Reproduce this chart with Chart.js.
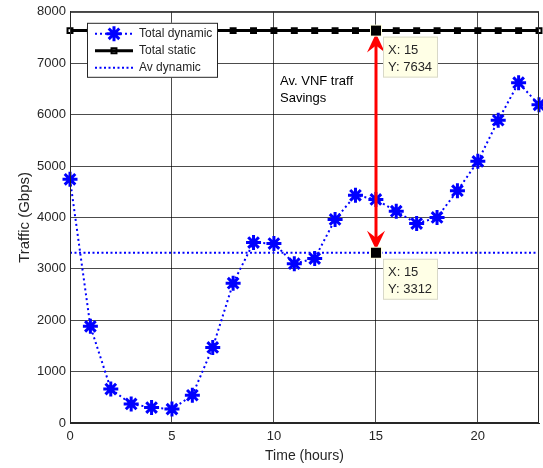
<!DOCTYPE html>
<html>
<head>
<meta charset="utf-8">
<script src="https://cdn.jsdelivr.net/npm/chart.js@4.4.1/dist/chart.umd.min.js"></script>
<style>
  html, body { margin: 0; padding: 0; background: #fff; }
  #wrap { width: 543px; height: 468px; }
</style>
</head>
<body>
<div id="wrap"><canvas id="myChart" width="543" height="468"></canvas></div>
<script>
// values
const hours = [0, 1, 2, 3, 4, 5, 6, 7, 8, 9, 10, 11, 12, 13, 14, 15, 16, 17, 18, 19, 20, 21, 22, 23];
const totalDynamic = [4740, 1880, 660, 370, 300, 270, 540, 1470, 2720, 3510, 3490, 3100,
                      3200, 3960, 4430, 4350, 4120, 3880, 4000, 4520, 5090, 5890, 6620, 6190];
const totalStatic = [7634, 7634, 7634, 7634, 7634, 7634, 7634, 7634, 7634, 7634, 7634, 7634,
                     7634, 7634, 7634, 7634, 7634, 7634, 7634, 7634, 7634, 7634, 7634, 7634];
const avHours = [0, 23];
const avDynamic = [3312, 3312];
const seriesNames = ['Total dynamic', 'Total static', 'Av dynamic'];
const xTicks = [0, 5, 10, 15, 20];
const yTicks = [0, 1000, 2000, 3000, 4000, 5000, 6000, 7000, 8000];
const tipX = 15;
const tipTop = 7634;
const tipBottom = 3312;
const noteLines = ['Av. VNF traff', 'Savings'];
const noteAt = { x: 10.3, y: 6640 };

const FONT = 'Liberation Sans, Arial, Helvetica, sans-serif';
const TXT = '#262626';
const BLUE = '#0000ff';

const toXY = (xs, ys) => xs.map((x, i) => ({ x: x, y: ys[i] }));

// stretch the plot to the right edge like the original axes
const rightEdge = {
    id: 'rightEdge',
    afterLayout(chart) {
        const a = chart.chartArea;
        const x = chart.scales.x;
        const r = chart.width - 4;
        a.right = r;
        a.width = r - a.left;
        x.right = r;
        x.width = r - x.left;
        x.configure();
    }
};

// frame, legend, arrow, data tips
const overlay = {
    id: 'overlay',
    afterDatasetsDraw(chart) {
        const c = chart.ctx;
        const a = chart.chartArea;
        const xs = chart.scales.x, ys = chart.scales.y;
        c.save();

        // box around the axes
        c.strokeStyle = TXT;
        c.lineWidth = 1;
        c.strokeRect(a.left + 0.5, a.top + 0.5, a.right - a.left - 1, a.bottom - a.top - 1);

        // double arrow
        const px = Math.round(xs.getPixelForValue(tipX));
        const yT = ys.getPixelForValue(tipTop);
        const yB = ys.getPixelForValue(tipBottom);
        c.strokeStyle = '#ff0000';
        c.fillStyle = '#ff0000';
        c.lineWidth = 3;
        c.beginPath();
        c.moveTo(px, yT + 12);
        c.lineTo(px, yB - 12);
        c.stroke();
        const head = (tip, dir) => {
            c.beginPath();
            c.moveTo(px, tip);
            c.lineTo(px - 9, tip + dir * 19);
            c.lineTo(px, tip + dir * 12);
            c.lineTo(px + 9, tip + dir * 19);
            c.closePath();
            c.fill();
        };
        head(yT + 3, 1);
        head(yB - 3, -1);

        // data tips
        c.font = '13px ' + FONT;
        c.textBaseline = 'middle';
        c.textAlign = 'left';
        [tipTop, tipBottom].forEach(v => {
            const py = ys.getPixelForValue(v);
            c.fillStyle = '#ffffe0';
            c.fillRect(px - 6, py - 6, 12, 12);
            c.fillStyle = '#000';
            c.fillRect(px - 5, py - 5, 10, 10);
            const bx = px + 7, by = py + 6;
            c.fillStyle = '#ffffe6';
            c.fillRect(bx, by, 55, 41);
            c.strokeStyle = '#d8d8c8';
            c.lineWidth = 1;
            c.strokeRect(bx + 0.5, by + 0.5, 54, 40);
            c.fillStyle = TXT;
            c.fillText('X: ' + tipX, bx + 5, by + 14);
            c.fillText('Y: ' + v, bx + 5, by + 31);
        });

        // note text
        c.fillStyle = '#000';
        c.font = '13px ' + FONT;
        const nx = xs.getPixelForValue(noteAt.x);
        const ny = ys.getPixelForValue(noteAt.y);
        noteLines.forEach((t, i) => c.fillText(t, nx, ny + i * 17));

        // legend box
        const lx = a.left + 17, ly = a.top + 11, lw = 131, lh = 55;
        c.fillStyle = '#fff';
        c.fillRect(lx, ly, lw, lh);
        c.strokeStyle = '#262626';
        c.lineWidth = 1;
        c.strokeRect(lx + 0.5, ly + 0.5, lw - 1, lh - 1);
        chart.data.datasets.forEach((ds, i) => {
            const ry = ly + 11 + i * 17;
            c.strokeStyle = ds.borderColor;
            c.lineWidth = ds.borderWidth;
            c.setLineDash(ds.borderDash || []);
            c.beginPath();
            c.moveTo(lx + 8, ry);
            c.lineTo(lx + 46, ry);
            c.stroke();
            c.setLineDash([]);
            if (ds.pointRadius > 0) {
                c.fillStyle = ds.pointBackgroundColor;
                c.strokeStyle = ds.pointBorderColor;
                c.lineWidth = ds.pointBorderWidth;
                Chart.helpers.drawPoint(c, {
                    pointStyle: ds.pointStyle,
                    radius: ds.pointRadius,
                    borderWidth: ds.pointBorderWidth,
                    rotation: 0
                }, lx + 27, ry);
            }
            c.fillStyle = TXT;
            c.font = '12px ' + FONT;
            c.fillText(ds.label, lx + 52, ry);
        });
        c.restore();
    }
};

const myChart = new Chart(document.getElementById('myChart').getContext('2d'), {
    type: 'line',
    data: {
        datasets: [{
            label: seriesNames[0],
            data: toXY(hours, totalDynamic),
            borderColor: BLUE,
            borderWidth: 2,
            borderDash: [2, 3],
            pointStyle: 'star',
            pointRadius: 7.5,
            pointBorderWidth: 3,
            pointBorderColor: BLUE,
            pointBackgroundColor: BLUE,
            tension: 0
        }, {
            label: seriesNames[1],
            data: toXY(hours, totalStatic),
            borderColor: '#000',
            borderWidth: 3,
            pointStyle: 'rect',
            pointRadius: 3.5,
            pointBorderWidth: 2,
            pointBorderColor: '#000',
            pointBackgroundColor: 'rgba(0,0,0,0)',
            tension: 0
        }, {
            label: seriesNames[2],
            data: toXY(avHours, avDynamic),
            borderColor: BLUE,
            borderWidth: 2,
            borderDash: [2, 2.5],
            pointRadius: 0,
            tension: 0
        }]
    },
    options: {
        responsive: false,
        animation: false,
        clip: false,
        layout: { padding: { top: 11, right: 4, left: 0, bottom: 0 } },
        plugins: { legend: { display: false }, tooltip: { enabled: false } },
        scales: {
            x: {
                type: 'linear',
                min: 0,
                max: 23,
                afterFit: s => { s.height = 45; },
                afterBuildTicks: s => { s.ticks = xTicks.map(v => ({ value: v })); },
                ticks: { color: TXT, font: { family: FONT, size: 13 }, padding: 6, maxRotation: 0 },
                grid: { color: 'rgba(0,0,0,0.7)', drawTicks: false },
                border: { color: TXT },
                title: { display: true, text: 'Time (hours)', color: TXT,
                         font: { family: FONT, size: 14 }, padding: { top: 2, bottom: 3 } }
            },
            y: {
                min: 0,
                max: 8000,
                afterFit: s => { s.width = 70; },
                afterBuildTicks: s => { s.ticks = yTicks.map(v => ({ value: v })); },
                ticks: { color: TXT, font: { family: FONT, size: 13 }, padding: 4,
                         callback: v => String(v) },
                grid: { color: 'rgba(0,0,0,0.7)', drawTicks: false },
                border: { color: TXT },
                title: { display: true, text: 'Traffic (Gbps)', color: TXT,
                         font: { family: FONT, size: 15 }, padding: { top: 16, bottom: 0 } }
            }
        }
    },
    plugins: [rightEdge, overlay]
});
</script>
</body>
</html>
